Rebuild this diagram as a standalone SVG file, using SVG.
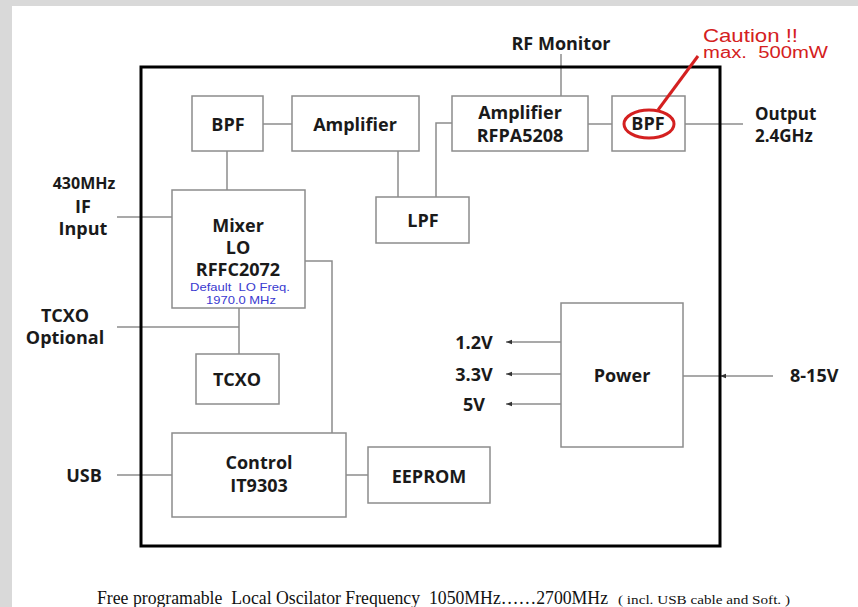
<svg xmlns="http://www.w3.org/2000/svg" width="858" height="607" viewBox="0 0 858 607">
<defs>
<style>
.box{fill:#fff;stroke:#8c8c8c;stroke-width:1.5}
.ln{stroke:#8c8c8c;stroke-width:1.5;fill:none}
.lbl{font-family:"Open Sans","Liberation Sans",sans-serif;font-weight:bold;font-size:18px;fill:#1a1a1a;text-anchor:middle}
.ext{font-family:"Open Sans","Liberation Sans",sans-serif;font-weight:bold;font-size:17px;fill:#1a1a1a;text-anchor:middle}
.blue{font-family:"Liberation Sans",Arial,sans-serif;font-size:11.5px;fill:#3a3ad0;text-anchor:middle;white-space:pre}
.red{font-family:"Liberation Sans",Arial,sans-serif;fill:#d42020;white-space:pre}
.foot{font-family:"Liberation Serif","Times New Roman",serif;fill:#111;white-space:pre}
</style>
<marker id="ah" viewBox="0 0 8 8" refX="8" refY="4" markerWidth="6" markerHeight="6" orient="auto" markerUnits="userSpaceOnUse">
<path d="M0,1 L8,4 L0,7 Z" fill="#333"/>
</marker>
</defs>
<rect x="0" y="0" width="858" height="607" fill="#fff"/>
<rect x="0" y="0" width="858" height="6" fill="#d9d9d9"/>
<rect x="0" y="0" width="12" height="607" fill="#d9d9d9"/>

<g id="connectors">
<line class="ln" x1="263" y1="124" x2="292" y2="124"/>
<line class="ln" x1="398" y1="151" x2="398" y2="197"/>
<polyline class="ln" points="436,197 436,123 452,123"/>
<line class="ln" x1="588" y1="124" x2="612" y2="124"/>
<line class="ln" x1="685" y1="124" x2="743" y2="124"/>
<line class="ln" x1="561" y1="54" x2="561" y2="96"/>
<line class="ln" x1="227" y1="151" x2="227" y2="190"/>
<line class="ln" x1="117" y1="217" x2="172" y2="217"/>
<polyline class="ln" points="305,261 332,261 332,433"/>
<line class="ln" x1="239" y1="308" x2="239" y2="354"/>
<line class="ln" x1="117" y1="327" x2="239" y2="327"/>
<line class="ln" x1="117" y1="475" x2="172" y2="475"/>
<line class="ln" x1="346" y1="475" x2="368" y2="475"/>
<line class="ln" x1="561" y1="342" x2="506" y2="342" stroke="#555" marker-end="url(#ah)"/>
<line class="ln" x1="561" y1="374" x2="506" y2="374" stroke="#555" marker-end="url(#ah)"/>
<line class="ln" x1="561" y1="404" x2="506" y2="404" stroke="#555" marker-end="url(#ah)"/>
<line class="ln" x1="683" y1="376" x2="720" y2="376"/>
<line class="ln" x1="773" y1="376" x2="720" y2="376" stroke="#555" marker-end="url(#ah)"/>
</g>

<rect id="frame" x="141" y="67" width="579" height="479" fill="none" stroke="#000" stroke-width="3"/>

<g id="bpf1"><rect class="box" x="192" y="96" width="71" height="55"/><text class="lbl" x="228" y="131">BPF</text></g>
<g id="amp1"><rect class="box" x="292" y="96" width="127" height="55"/><text class="lbl" x="355" y="131">Amplifier</text></g>
<g id="amp2"><rect class="box" x="452" y="96" width="136" height="55"/><text class="lbl" x="520" y="119">Amplifier</text><text class="lbl" x="520" y="142">RFPA5208</text></g>
<g id="bpf2"><rect class="box" x="612" y="96" width="73" height="55"/><text class="lbl" x="648" y="130">BPF</text></g>
<g id="lpf"><rect class="box" x="376" y="197" width="93" height="46"/><text class="lbl" x="423" y="227">LPF</text></g>
<g id="mixer"><rect class="box" x="172" y="190" width="133" height="118"/>
<text class="lbl" x="238" y="232">Mixer</text><text class="lbl" x="238" y="254">LO</text><text class="lbl" x="238" y="276">RFFC2072</text>
<text class="blue" x="240" y="291" textLength="100" lengthAdjust="spacingAndGlyphs">Default  LO Freq.</text>
<text class="blue" x="241" y="304" textLength="70" lengthAdjust="spacingAndGlyphs">1970.0 MHz</text></g>
<g id="tcxo"><rect class="box" x="196" y="354" width="83" height="50"/><text class="lbl" x="237" y="386">TCXO</text></g>
<g id="control"><rect class="box" x="172" y="433" width="174" height="84"/><text class="lbl" x="259" y="469">Control</text><text class="lbl" x="259" y="492">IT9303</text></g>
<g id="eeprom"><rect class="box" x="368" y="447" width="122" height="56"/><text class="lbl" x="429" y="483">EEPROM</text></g>
<g id="power"><rect class="box" x="561" y="303" width="122" height="144"/><text class="lbl" x="622" y="382">Power</text></g>

<g id="labels">
<text class="lbl" x="561" y="50">RF Monitor</text>
<text class="ext" x="755" y="120" style="text-anchor:start">Output</text>
<text class="ext" x="755" y="142" style="text-anchor:start">2.4GHz</text>
<text class="ext" x="84" y="189" style="font-size:16px">430MHz</text>
<text class="lbl" x="83" y="213">IF</text>
<text class="lbl" x="83" y="235">Input</text>
<text class="lbl" x="65" y="322">TCXO</text>
<text class="lbl" x="65" y="344">Optional</text>
<text class="lbl" x="84" y="482">USB</text>
<text class="lbl" x="474" y="349">1.2V</text>
<text class="lbl" x="474" y="381">3.3V</text>
<text class="lbl" x="474" y="411">5V</text>
<text class="lbl" x="790" y="382" style="text-anchor:start">8-15V</text>
</g>

<g id="caution">
<text class="red" x="703" y="42" font-size="19" textLength="95" lengthAdjust="spacingAndGlyphs">Caution !!</text>
<text class="red" x="703" y="58" font-size="16" textLength="125" lengthAdjust="spacingAndGlyphs">max.  500mW</text>
<line x1="698" y1="56" x2="658" y2="110" stroke="#d42020" stroke-width="3"/>
<ellipse cx="649" cy="124" rx="25" ry="14" fill="none" stroke="#d42020" stroke-width="3"/>
</g>

<g id="footer">
<text class="foot" x="97" y="604" font-size="18" textLength="511" lengthAdjust="spacingAndGlyphs">Free programable  Local Oscilator Frequency  1050MHz……2700MHz</text>
<text class="foot" x="618" y="604" font-size="13" textLength="172" lengthAdjust="spacingAndGlyphs">( incl. USB cable and Soft. )</text>
</g>
</svg>
